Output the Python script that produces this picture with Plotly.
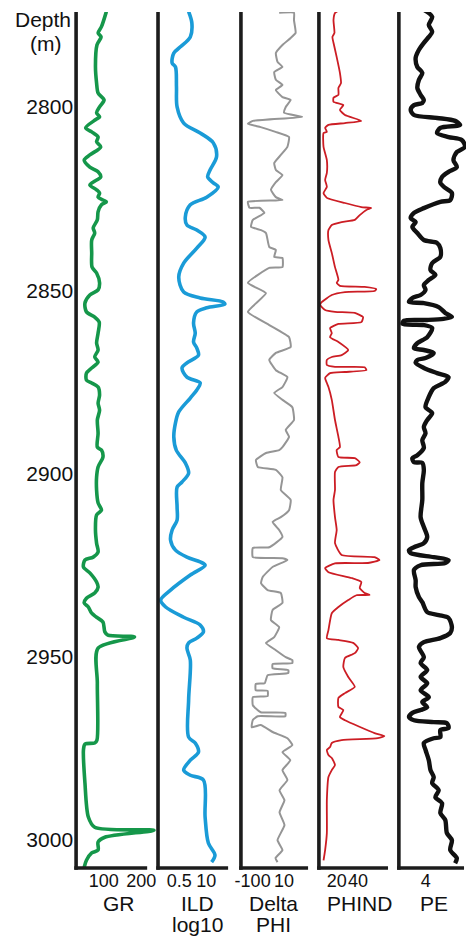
import plotly.graph_objects as go

# ---------------- data (depth in m, log value) ----------------
depth_ticks = [2800, 2850, 2900, 2950, 3000]
depth_range = [3007.6, 2774.1]

gr_log = [(2774.0, 107), (2778.1, 94), (2779.8, 85), (2780.9, 93), (2783.1, 82), (2789.0, 78), (2793.5, 81),
          (2796.2, 85), (2798.1, 101), (2800.0, 89), (2801.6, 81), (2802.7, 89), (2803.5, 78), (2805.7, 52),
          (2806.8, 68), (2808.2, 85), (2809.5, 81), (2810.9, 92), (2813.1, 63), (2814.5, 48), (2816.4, 63),
          (2817.7, 85), (2819.1, 92), (2820.5, 72), (2821.3, 63), (2822.6, 81), (2823.5, 89), (2824.6, 85),
          (2825.4, 98), (2825.9, 107), (2826.7, 94), (2828.6, 85), (2830.8, 83), (2833.0, 72), (2834.4, 76),
          (2836.3, 68), (2839.8, 68), (2843.7, 69), (2845.3, 81), (2848.0, 89), (2849.9, 85), (2851.3, 63),
          (2853.5, 50), (2855.9, 54), (2857.3, 76), (2858.7, 88), (2861.7, 85), (2864.4, 81), (2866.3, 85),
          (2868.2, 76), (2869.6, 85), (2871.2, 68), (2872.6, 54), (2874.5, 54), (2875.3, 68), (2876.4, 85),
          (2878.6, 89), (2880.8, 85), (2882.7, 89), (2885.4, 83), (2889.0, 85), (2892.8, 83), (2893.6, 94),
          (2895.5, 98), (2898.2, 85), (2901.0, 81), (2904.5, 81), (2908.0, 85), (2910.0, 94), (2911.3, 81),
          (2915.4, 78), (2919.0, 81), (2921.4, 85), (2922.8, 72), (2923.6, 50), (2925.5, 46), (2927.1, 63),
          (2929.6, 81), (2931.0, 85), (2932.6, 76), (2934.0, 54), (2935.3, 48), (2936.4, 59), (2938.1, 68),
          (2939.2, 81), (2940.5, 98), (2943.2, 103), (2944.1, 111), (2944.6, 182), (2947.6, 85), (2957.2, 83),
          (2972.7, 82), (2973.5, 76), (2973.8, 50), (2975.4, 46), (2984.4, 50), (2993.7, 59), (2996.5, 76),
          (2997.3, 234), (2999.2, 103), (3000.5, 85), (3002.7, 85), (3003.5, 68), (3005.5, 54), (3007.4, 48)]

ild_log = [(2774.0, 1.41), (2777.1, 2.02), (2780.9, 1.70), (2783.6, 0.57), (2785.3, 0.274), (2788.0, 0.228),
           (2789.1, 0.330), (2794.5, 0.368), (2800.0, 0.394), (2804.4, 0.817), (2807.1, 5.06), (2809.8, 21.6),
           (2813.6, 30.9), (2817.2, 15.1), (2819.1, 11.6), (2820.7, 21.6), (2821.8, 37.2), (2824.6, 10.4),
           (2826.7, 1.70), (2830.0, 0.98), (2832.2, 1.17), (2833.6, 3.49), (2835.5, 8.73), (2838.5, 3.49),
           (2842.6, 0.817), (2846.4, 0.473), (2850.5, 0.817), (2852.1, 5.06), (2853.2, 64.3), (2853.8, 77.4),
           (2854.8, 10.4), (2855.9, 3.49), (2858.9, 2.43), (2861.7, 2.93), (2864.1, 2.43), (2865.8, 3.49),
           (2867.7, 4.20), (2869.8, 1.17), (2871.2, 0.679), (2873.7, 1.17), (2875.3, 5.06), (2877.2, 3.49),
           (2879.4, 1.70), (2883.2, 0.473), (2886.2, 0.330), (2890.0, 0.274), (2893.6, 0.36), (2897.1, 0.98),
           (2899.9, 1.41), (2902.3, 0.679), (2903.7, 0.394), (2909.1, 0.394), (2912.7, 0.394), (2915.4, 0.228),
           (2918.1, 0.191), (2920.9, 0.330), (2922.8, 1.17), (2924.1, 5.06), (2925.0, 8.73), (2927.7, 1.70),
           (2931.8, 0.191), (2934.5, 0.0643), (2936.4, 0.111), (2939.2, 0.817), (2941.3, 5.06), (2943.2, 7.24),
           (2944.9, 3.49), (2946.2, 1.41), (2947.6, 1.17), (2950.9, 1.70), (2961.8, 1.41), (2971.9, 1.41),
           (2973.5, 2.93), (2976.0, 4.20), (2978.2, 1.70), (2980.9, 0.817), (2982.3, 1.70), (2983.6, 7.24),
           (2993.7, 8.73), (3000.8, 12.5), (3004.1, 26.0), (3006.0, 17.9)]

dphi_log = [(2774.3, 7.3), (2774.3, 15.4), (2776.3, 15.4), (2779.8, 16.3), (2781.2, 13.6), (2783.1, 9.1),
            (2785.3, 5.5), (2787.7, 6.4), (2789.1, 9.1), (2790.5, 4.6), (2792.6, 5.5), (2794.0, 9.1),
            (2795.4, 5.5), (2797.3, 9.1), (2798.1, 13.6), (2800.0, 10.9), (2801.6, 10.0), (2802.7, 19.9),
            (2803.8, -7.1), (2804.6, -9.8), (2805.5, -2.8), (2806.8, 5.3), (2808.2, 12.7), (2810.9, 11.8),
            (2813.1, 8.2), (2815.3, 4.6), (2817.2, 5.5), (2818.6, 9.1), (2820.5, 5.5), (2822.6, 2.8),
            (2824.6, 5.5), (2825.4, 9.1), (2825.9, -9.8), (2827.5, -8.9), (2827.5, -3.5), (2828.9, -0.8),
            (2830.8, -7.1), (2832.7, -8.1), (2833.6, -2.6), (2834.4, 0.1), (2838.2, 1.9), (2839.0, 5.5),
            (2840.9, 4.6), (2841.2, 9.1), (2843.7, 9.1), (2843.9, 1.9), (2848.0, -9.8), (2850.8, 0.1),
            (2855.9, -9.8), (2859.5, 1.9), (2862.8, 12.7), (2865.5, 13.6), (2867.1, 5.5), (2869.0, 1.9),
            (2871.8, 5.5), (2873.7, 11.8), (2876.4, 9.1), (2878.0, 4.6), (2879.9, 9.1), (2881.9, 14.5),
            (2885.4, 15.4), (2888.1, 10.9), (2890.0, 12.7), (2892.8, 9.1), (2893.6, 7.3), (2894.4, 0.1),
            (2896.3, -5.4), (2898.2, -4.4), (2899.0, 5.5), (2901.0, 9.1), (2904.5, 8.2), (2907.2, 13.6),
            (2910.0, 12.7), (2911.9, 8.2), (2913.2, 3.7), (2915.4, 7.3), (2917.3, 9.1), (2920.1, 1.9),
            (2920.3, -7.1), (2922.8, -7.1), (2923.1, 9.1), (2923.6, 11.8), (2925.5, 3.7), (2928.2, -1.7),
            (2929.9, -2.6), (2931.8, 1.0), (2932.6, 8.2), (2935.3, 9.1), (2937.2, 3.7), (2940.0, 2.8),
            (2941.9, 7.3), (2944.6, 4.6), (2946.2, 0.1), (2948.2, 5.5), (2950.1, 10.9), (2950.9, 14.5),
            (2951.7, 14.5), (2952.0, 3.7), (2953.1, 3.7), (2953.6, 12.3), (2954.4, 12.3), (2955.0, 1.0),
            (2957.2, -0.6), (2957.4, -5.5), (2959.1, -5.5), (2959.3, 1.0), (2960.7, 1.0), (2961.0, -7.1),
            (2963.2, -7.1), (2965.1, -2.8), (2965.3, 10.7), (2966.2, 10.7), (2966.2, -4.4), (2967.2, -7.1),
            (2969.2, -7.7), (2968.6, -2.8), (2970.5, 3.7), (2972.2, 11.8), (2974.1, 14.5), (2976.0, 9.1),
            (2978.2, 13.4), (2980.9, 9.1), (2983.6, 11.8), (2986.4, 7.5), (2989.1, 10.2), (2992.4, 7.5),
            (2995.9, 10.2), (3000.0, 6.4), (3002.7, 9.1), (3004.9, 5.3), (3006.0, 6.4)]

phind_log = [(2773.5, 23.0), (2774.4, 18.4), (2776.3, 17.0), (2779.8, 17.9), (2780.9, 16.0), (2782.5, 17.0),
             (2786.4, 20.0), (2790.7, 23.0), (2793.5, 24.0), (2794.8, 21.6), (2796.7, 21.6), (2797.5, 17.0),
             (2798.6, 17.0), (2799.5, 26.2), (2800.8, 23.0), (2802.2, 27.7), (2803.8, 43.0), (2804.4, 27.7),
             (2804.9, 12.3), (2805.7, 9.2), (2806.8, 10.8), (2807.1, 7.7), (2810.9, 7.7), (2814.5, 10.8),
             (2818.0, 10.8), (2819.9, 9.2), (2821.8, 10.8), (2823.5, 7.7), (2824.8, 10.8), (2826.2, 27.7),
             (2827.3, 43.0), (2827.6, 52.3), (2828.1, 47.7), (2829.5, 41.5), (2830.8, 36.9), (2831.4, 24.6),
             (2832.2, 15.4), (2833.6, 12.3), (2836.3, 12.3), (2839.8, 15.4), (2843.7, 18.4), (2847.2, 21.6),
             (2848.0, 20.0), (2848.8, 23.0), (2849.1, 46.1), (2849.7, 56.9), (2850.2, 55.3), (2850.5, 27.7),
             (2851.3, 15.4), (2853.2, 6.2), (2854.0, 4.6), (2855.4, 9.2), (2855.9, 18.4), (2856.2, 36.9),
             (2857.3, 44.6), (2858.7, 43.0), (2859.2, 21.6), (2860.3, 13.8), (2861.7, 15.4), (2862.8, 13.8),
             (2864.1, 21.6), (2866.3, 30.8), (2867.7, 24.6), (2868.2, 15.4), (2869.0, 10.8), (2870.4, 10.8),
             (2870.9, 18.4), (2871.0, 46.1), (2871.8, 47.7), (2872.3, 27.7), (2872.6, 13.8), (2873.9, 9.2),
             (2875.3, 10.8), (2876.4, 12.3), (2879.9, 15.4), (2885.4, 18.4), (2890.0, 21.6), (2892.8, 23.0),
             (2893.6, 20.0), (2895.5, 21.6), (2895.8, 36.9), (2896.9, 41.5), (2897.7, 38.4), (2898.2, 21.6),
             (2899.6, 18.4), (2904.5, 18.4), (2907.2, 17.0), (2911.9, 18.4), (2915.4, 20.0), (2919.0, 18.4),
             (2922.2, 24.6), (2922.8, 55.3), (2923.6, 59.9), (2924.4, 49.2), (2924.5, 18.4), (2925.8, 9.2),
             (2926.9, 12.3), (2928.5, 33.8), (2929.6, 43.0), (2931.2, 41.5), (2932.6, 46.1), (2933.1, 50.7),
             (2933.2, 38.4), (2934.5, 30.8), (2936.4, 21.6), (2938.1, 15.4), (2942.7, 12.3), (2944.9, 10.8),
             (2945.4, 21.6), (2946.2, 35.4), (2947.6, 40.0), (2949.0, 36.9), (2950.3, 27.7), (2952.8, 26.2),
             (2955.5, 30.8), (2958.2, 36.9), (2959.9, 27.7), (2961.2, 21.6), (2963.7, 21.6), (2964.5, 26.2),
             (2966.4, 23.0), (2967.3, 27.7), (2970.8, 55.3), (2971.6, 64.5), (2972.2, 58.4), (2972.7, 24.6),
             (2973.5, 15.4), (2974.6, 13.8), (2975.4, 10.8), (2976.8, 12.3), (2977.6, 15.4), (2979.5, 18.4),
             (2980.9, 15.4), (2982.8, 12.3), (2989.1, 10.8), (2998.1, 10.8), (3002.7, 9.2), (3005.5, 7.7)]

pe_log = [(2773.5, 3.72), (2775.4, 4.96), (2777.6, 4.46), (2779.5, 4.96), (2780.9, 4.46), (2782.5, 3.72),
          (2784.4, 2.99), (2786.6, 2.50), (2789.1, 2.75), (2790.7, 3.49), (2792.6, 2.99), (2794.8, 2.75),
          (2796.7, 3.24), (2798.1, 3.72), (2798.9, 3.49), (2799.5, 2.25), (2800.8, 1.76), (2802.2, 2.25),
          (2803.0, 5.69), (2803.8, 8.38), (2804.9, 9.12), (2805.7, 6.18), (2807.1, 5.69), (2808.2, 7.40),
          (2809.0, 9.37), (2810.9, 9.85), (2812.3, 8.63), (2814.5, 8.13), (2816.4, 8.63), (2817.7, 7.40),
          (2819.1, 6.43), (2820.7, 6.18), (2822.1, 6.91), (2823.5, 7.90), (2825.4, 7.65), (2825.9, 6.18),
          (2827.6, 3.72), (2828.9, 2.25), (2830.3, 1.76), (2831.4, 2.50), (2832.7, 2.01), (2834.4, 2.75),
          (2836.3, 3.72), (2837.1, 5.69), (2838.5, 6.18), (2840.9, 6.18), (2842.6, 4.96), (2844.5, 4.71),
          (2845.8, 5.44), (2847.2, 4.46), (2848.6, 3.72), (2849.9, 3.97), (2851.3, 3.24), (2852.1, 2.01),
          (2853.2, 1.51), (2853.5, 3.72), (2854.6, 5.93), (2856.2, 6.91), (2857.3, 7.90), (2857.8, 6.66),
          (2858.1, 4.22), (2858.3, 0.78), (2859.2, 0.54), (2859.5, 3.72), (2860.3, 4.96), (2862.8, 4.22),
          (2864.4, 2.75), (2865.8, 2.25), (2866.3, 3.72), (2867.1, 5.19), (2868.5, 3.97), (2869.0, 2.75),
          (2869.8, 2.50), (2871.2, 3.72), (2872.6, 5.69), (2873.7, 7.40), (2875.0, 6.91), (2876.7, 5.19),
          (2879.1, 4.46), (2881.9, 3.97), (2883.5, 4.96), (2885.4, 4.22), (2887.3, 3.72), (2889.0, 3.97),
          (2890.9, 3.49), (2893.0, 3.72), (2895.0, 2.75), (2895.8, 2.01), (2896.9, 2.25), (2897.1, 3.49),
          (2899.0, 3.72), (2902.6, 3.49), (2907.2, 3.49), (2911.9, 3.24), (2914.6, 3.72), (2917.3, 4.22),
          (2919.0, 3.72), (2920.1, 2.25), (2920.9, 1.51), (2921.7, 1.76), (2922.8, 5.19), (2923.6, 7.40),
          (2924.4, 6.91), (2925.0, 3.24), (2926.3, 2.25), (2929.1, 2.50), (2931.0, 2.50), (2933.7, 2.99),
          (2935.1, 3.49), (2937.8, 4.22), (2938.6, 5.93), (2939.4, 7.40), (2941.9, 7.90), (2943.5, 7.65),
          (2944.9, 6.18), (2946.0, 3.72), (2947.3, 2.99), (2950.1, 3.72), (2951.7, 3.24), (2953.6, 4.22),
          (2955.5, 3.24), (2957.2, 4.22), (2959.1, 3.24), (2961.0, 4.46), (2962.3, 3.49), (2963.7, 4.22),
          (2964.5, 3.24), (2965.3, 2.01), (2966.4, 1.51), (2967.3, 2.25), (2967.8, 5.19), (2968.1, 7.16),
          (2969.4, 7.40), (2970.0, 6.18), (2971.9, 6.18), (2972.2, 5.19), (2973.5, 3.72), (2975.4, 3.97),
          (2978.2, 4.46), (2980.9, 4.71), (2982.8, 5.19), (2984.4, 4.96), (2986.4, 5.93), (2988.3, 5.44),
          (2989.9, 6.43), (2992.6, 6.18), (2994.5, 6.91), (2998.1, 7.16), (3000.0, 7.90), (3002.7, 7.65),
          (3004.9, 8.63), (3006.3, 8.38)]

track_names = [["GR"], ["ILD", "log10"], ["Delta", "PHI"], ["PHIND"], ["PE"]]
track_logs = [gr_log, ild_log, dphi_log, phind_log, pe_log]
track_ranges = [[26.4, 239.4], [-1.32, 2.045], [-13.6, 23.1], [3.4, 67.9], [0, 10]]
track_types = ["linear", "log", "linear", "linear", "linear"]
track_tickvals = [[100, 200], [0.5, 10], [-10, 0, 10], [20, 40], [4]]
track_ticktext = [["100", "200"], ["0.5", "10"], ["-10", "0", "10"], ["20", "40"], ["4"]]

# ---------------- style / layout ----------------
W, H = 466, 937
TOP, BOTTOM = 12, 868
# (left edge of track, right edge of plotting area, end of bottom frame line) in px
geom = [(71, 152, 143), (154, 225, 225), (238, 306, 306), (317, 387, 387), (398, 466, 464)]
title_cx = [114, 194, 271, 358, 434]
colors = ["#15974a", "#1a9bd7", "#959595", "#cc1d24", "#111111"]
widths = [3.6, 3.6, 2.0, 1.8, 4.4]
smooth = [0.8, 0.9, 0.4, 0.5, 0.8]
FONT = "Liberation Sans, Arial, Helvetica, sans-serif"
FRAME = "#1c1c1c"
FW = 3.6


def fx(p):
    return p / W


def fy(p):
    return 1 - p / H


fig = go.Figure()
layout = dict(width=W, height=H, margin=dict(l=0, r=0, t=0, b=0), showlegend=False,
              paper_bgcolor="white", plot_bgcolor="white", font=dict(family=FONT, color="#111"))
shapes = []
annotations = []

for i in range(5):
    n = "" if i == 0 else str(i + 1)
    depth = [p[0] for p in track_logs[i]]
    val = [p[1] for p in track_logs[i]]
    fig.add_trace(go.Scatter(x=val, y=depth, mode="lines", xaxis="x" + n, yaxis="y" + n,
                             line=dict(color=colors[i], width=widths[i], shape="spline", smoothing=smooth[i]),
                             hoverinfo="skip"))
    left, right, end = geom[i]
    layout["xaxis" + n] = dict(domain=[fx(left), fx(right)], range=track_ranges[i], type=track_types[i],
                               anchor="y" + n, showgrid=False, zeroline=False, showline=False, ticks="",
                               tickvals=track_tickvals[i], ticktext=track_ticktext[i], tickangle=0,
                               tickfont=dict(size=18, family=FONT, color="#111"), fixedrange=True)
    layout["yaxis" + n] = dict(domain=[fy(BOTTOM), fy(TOP)], range=depth_range, anchor="x" + n,
                               showgrid=False, zeroline=False, showline=False, ticks="",
                               tickvals=depth_ticks, showticklabels=(i == 0), ticklabelstandoff=2,
                               tickfont=dict(size=21, family=FONT, color="#111"), fixedrange=True)
    shapes.append(dict(type="line", xref="paper", yref="paper", x0=fx(left), x1=fx(left),
                       y0=fy(TOP), y1=fy(BOTTOM + FW / 2), line=dict(color=FRAME, width=FW)))
    shapes.append(dict(type="line", xref="paper", yref="paper", x0=fx(left - FW / 2), x1=fx(end),
                       y0=fy(BOTTOM), y1=fy(BOTTOM), line=dict(color=FRAME, width=FW)))
    for j, t in enumerate(track_names[i]):
        annotations.append(dict(text=t, xref="paper", yref="paper", x=fx(title_cx[i]), y=fy(903 + 21 * j),
                                xanchor="center", yanchor="middle", showarrow=False,
                                font=dict(size=21, family=FONT, color="#111")))

annotations.append(dict(text="Depth", xref="paper", yref="paper", x=fx(37), y=fy(20), xanchor="center",
                        yanchor="middle", showarrow=False, font=dict(size=21, family=FONT, color="#111")))
annotations.append(dict(text="(m)", xref="paper", yref="paper", x=fx(40), y=fy(43), xanchor="center",
                        yanchor="middle", showarrow=False, font=dict(size=21, family=FONT, color="#111")))

layout["shapes"] = shapes
layout["annotations"] = annotations
fig.update_layout(**layout)
fig.write_html("out.html")
